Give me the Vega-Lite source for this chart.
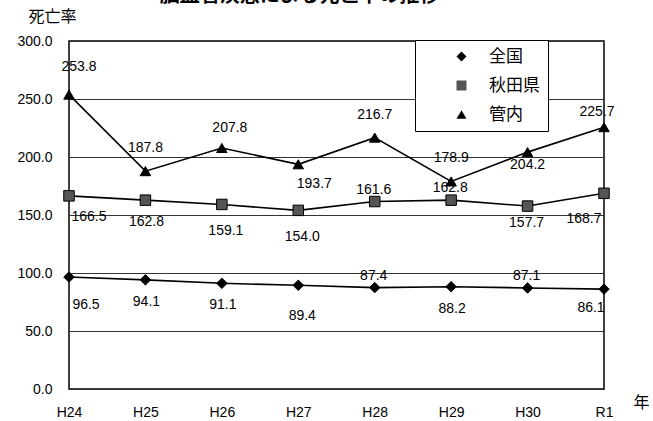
{
  "$schema": "https://vega.github.io/schema/vega-lite/v6.json",
  "width": 535,
  "height": 348,
  "autosize": "none",
  "padding": {"left": 69, "top": 41, "right": 49, "bottom": 32},
  "background": "white",
  "title": {
    "text": "脳血管疾患による死亡率の推移",
    "font": "Noto Sans CJK JP",
    "fontSize": 20,
    "fontWeight": "bold",
    "color": "black",
    "anchor": "middle",
    "frame": "group",
    "dx": -37,
    "offset": 2
  },
  "data": {
    "values": [
      {"year": "H24", "s": "全国", "v": 96.5},
      {"year": "H25", "s": "全国", "v": 94.1},
      {"year": "H26", "s": "全国", "v": 91.1},
      {"year": "H27", "s": "全国", "v": 89.4},
      {"year": "H28", "s": "全国", "v": 87.4},
      {"year": "H29", "s": "全国", "v": 88.2},
      {"year": "H30", "s": "全国", "v": 87.1},
      {"year": "R1", "s": "全国", "v": 86.1},
      {"year": "H24", "s": "秋田県", "v": 166.5},
      {"year": "H25", "s": "秋田県", "v": 162.8},
      {"year": "H26", "s": "秋田県", "v": 159.1},
      {"year": "H27", "s": "秋田県", "v": 154.0},
      {"year": "H28", "s": "秋田県", "v": 161.6},
      {"year": "H29", "s": "秋田県", "v": 162.8},
      {"year": "H30", "s": "秋田県", "v": 157.7},
      {"year": "R1", "s": "秋田県", "v": 168.7},
      {"year": "H24", "s": "管内", "v": 253.8},
      {"year": "H25", "s": "管内", "v": 187.8},
      {"year": "H26", "s": "管内", "v": 207.8},
      {"year": "H27", "s": "管内", "v": 193.7},
      {"year": "H28", "s": "管内", "v": 216.7},
      {"year": "H29", "s": "管内", "v": 178.9},
      {"year": "H30", "s": "管内", "v": 204.2},
      {"year": "R1", "s": "管内", "v": 225.7}
    ]
  },
  "encoding": {
    "x": {
      "field": "year",
      "type": "ordinal",
      "sort": ["H24", "H25", "H26", "H27", "H28", "H29", "H30", "R1"],
      "scale": {"type": "point", "padding": 0},
      "axis": {
        "title": "年",
        "titleAngle": 0,
        "titleX": 572,
        "titleY": 13,
        "titleAlign": "center",
        "titleBaseline": "middle",
        "titleFont": "Noto Sans CJK JP",
        "titleFontSize": 16,
        "titleFontWeight": "normal",
        "titleColor": "black",
        "labelAngle": 0,
        "labelFont": "Liberation Sans",
        "labelFontSize": 14,
        "labelColor": "black",
        "labelPadding": 16,
        "domain": false,
        "ticks": false,
        "grid": false
      }
    },
    "y": {
      "field": "v",
      "type": "quantitative",
      "scale": {"domain": [0, 300], "nice": false},
      "axis": {
        "title": "死亡率",
        "titleAngle": 0,
        "titleX": -41,
        "titleY": -25,
        "titleAlign": "left",
        "titleBaseline": "middle",
        "titleFont": "Noto Sans CJK JP",
        "titleFontSize": 16,
        "titleFontWeight": "normal",
        "titleColor": "black",
        "values": [0, 50, 100, 150, 200, 250, 300],
        "format": ".1f",
        "labelFont": "Liberation Sans",
        "labelFontSize": 14,
        "labelColor": "black",
        "labelPadding": 17,
        "domain": false,
        "ticks": false,
        "grid": true,
        "gridColor": "#333333",
        "gridWidth": 1
      }
    }
  },
  "layer": [
    {
      "transform": [{"calculate": "datum.s", "as": "series"}],
      "mark": {"type": "line", "strokeWidth": 1.6},
      "encoding": {
        "stroke": {
          "field": "series",
          "type": "nominal",
          "scale": {"range": ["#000000", "#000000", "#000000"]},
          "legend": {
            "symbolType": "M-4.7,0H4.7",
            "symbolStrokeColor": "black",
            "symbolFillColor": "transparent",
            "labelOpacity": 0
          }
        }
      }
    },
    {
      "mark": {"type": "point", "filled": true, "stroke": "black", "strokeWidth": 1, "opacity": 1, "size": 110},
      "encoding": {
        "shape": {
          "field": "s",
          "type": "nominal",
          "scale": {"domain": ["全国", "秋田県", "管内"], "range": ["diamond", "square", "triangle-up"]},
          "legend": {"symbolStrokeColor": "black", "labelColor": "black", "fillColor": "white", "strokeColor": "black"}
        },
        "fill": {
          "field": "s",
          "type": "nominal",
          "scale": {"domain": ["全国", "秋田県", "管内"], "range": ["#000000", "#555555", "#000000"]},
          "legend": {"symbolStrokeColor": "black", "labelColor": "black", "fillColor": "white", "strokeColor": "black"}
        }
      }
    },
    {
      "transform": [{"filter": "indexof(['管内H25','管内H28','管内H29'], datum.s + datum.year) >= 0"}],
      "mark": {"type": "text", "dx": 0, "dy": -23, "font": "Liberation Sans", "fontSize": 14, "color": "black"},
      "encoding": {"text": {"field": "v", "format": ".1f"}}
    },
    {
      "transform": [{"filter": "datum.s + datum.year === '管内H24'"}],
      "mark": {"type": "text", "dx": 10, "dy": -28, "font": "Liberation Sans", "fontSize": 14, "color": "black"},
      "encoding": {"text": {"field": "v", "format": ".1f"}}
    },
    {
      "transform": [{"filter": "datum.s + datum.year === '管内H26'"}],
      "mark": {"type": "text", "dx": 8, "dy": -20, "font": "Liberation Sans", "fontSize": 14, "color": "black"},
      "encoding": {"text": {"field": "v", "format": ".1f"}}
    },
    {
      "transform": [{"filter": "datum.s + datum.year === '管内H27'"}],
      "mark": {"type": "text", "dx": 16, "dy": 20, "font": "Liberation Sans", "fontSize": 14, "color": "black"},
      "encoding": {"text": {"field": "v", "format": ".1f"}}
    },
    {
      "transform": [{"filter": "datum.s + datum.year === '管内H30'"}],
      "mark": {"type": "text", "dx": 0, "dy": 13, "font": "Liberation Sans", "fontSize": 14, "color": "black"},
      "encoding": {"text": {"field": "v", "format": ".1f"}}
    },
    {
      "transform": [{"filter": "datum.s + datum.year === '管内R1'"}],
      "mark": {"type": "text", "dx": -7, "dy": -15, "font": "Liberation Sans", "fontSize": 14, "color": "black"},
      "encoding": {"text": {"field": "v", "format": ".1f"}}
    },
    {
      "transform": [{"filter": "datum.s + datum.year === '秋田県H24'"}],
      "mark": {"type": "text", "dx": 20, "dy": 21, "font": "Liberation Sans", "fontSize": 14, "color": "black"},
      "encoding": {"text": {"field": "v", "format": ".1f"}}
    },
    {
      "transform": [{"filter": "datum.s + datum.year === '全国H24'"}],
      "mark": {"type": "text", "dx": 17, "dy": 28, "font": "Liberation Sans", "fontSize": 14, "color": "black"},
      "encoding": {"text": {"field": "v", "format": ".1f"}}
    },
    {
      "transform": [{"filter": "indexof(['秋田県H25','全国H25','全国H26','全国H29'], datum.s + datum.year) >= 0"}],
      "mark": {"type": "text", "dx": 1, "dy": 22, "font": "Liberation Sans", "fontSize": 14, "color": "black"},
      "encoding": {"text": {"field": "v", "format": ".1f"}}
    },
    {
      "transform": [{"filter": "indexof(['秋田県H26','秋田県H27'], datum.s + datum.year) >= 0"}],
      "mark": {"type": "text", "dx": 4, "dy": 27, "font": "Liberation Sans", "fontSize": 14, "color": "black"},
      "encoding": {"text": {"field": "v", "format": ".1f"}}
    },
    {
      "transform": [{"filter": "datum.s + datum.year === '全国H27'"}],
      "mark": {"type": "text", "dx": 4, "dy": 31, "font": "Liberation Sans", "fontSize": 14, "color": "black"},
      "encoding": {"text": {"field": "v", "format": ".1f"}}
    },
    {
      "transform": [{"filter": "indexof(['秋田県H28','秋田県H29','全国H28','全国H30'], datum.s + datum.year) >= 0"}],
      "mark": {"type": "text", "dx": -1, "dy": -12, "font": "Liberation Sans", "fontSize": 14, "color": "black"},
      "encoding": {"text": {"field": "v", "format": ".1f"}}
    },
    {
      "transform": [{"filter": "datum.s + datum.year === '秋田県H30'"}],
      "mark": {"type": "text", "dx": -1, "dy": 17, "font": "Liberation Sans", "fontSize": 14, "color": "black"},
      "encoding": {"text": {"field": "v", "format": ".1f"}}
    },
    {
      "transform": [{"filter": "datum.s + datum.year === '秋田県R1'"}],
      "mark": {"type": "text", "dx": -20, "dy": 26, "font": "Liberation Sans", "fontSize": 14, "color": "black"},
      "encoding": {"text": {"field": "v", "format": ".1f"}}
    },
    {
      "transform": [{"filter": "datum.s + datum.year === '全国R1'"}],
      "mark": {"type": "text", "dx": -13, "dy": 19, "font": "Liberation Sans", "fontSize": 14, "color": "black"},
      "encoding": {"text": {"field": "v", "format": ".1f"}}
    }
  ],
  "config": {
    "view": {"stroke": "black", "strokeWidth": 1.5},
    "legend": {
      "orient": "none",
      "legendX": 346,
      "legendY": -1,
      "title": null,
      "padding": 8,
      "strokeWidth": 1,
      "labelFont": "Noto Sans CJK JP",
      "labelFontSize": 17,
      "labelColor": "black",
      "symbolSize": 100,
      "symbolOffset": 30,
      "labelOffset": 19,
      "rowPadding": 11,
      "symbolStrokeWidth": 1.5
    }
  }
}
